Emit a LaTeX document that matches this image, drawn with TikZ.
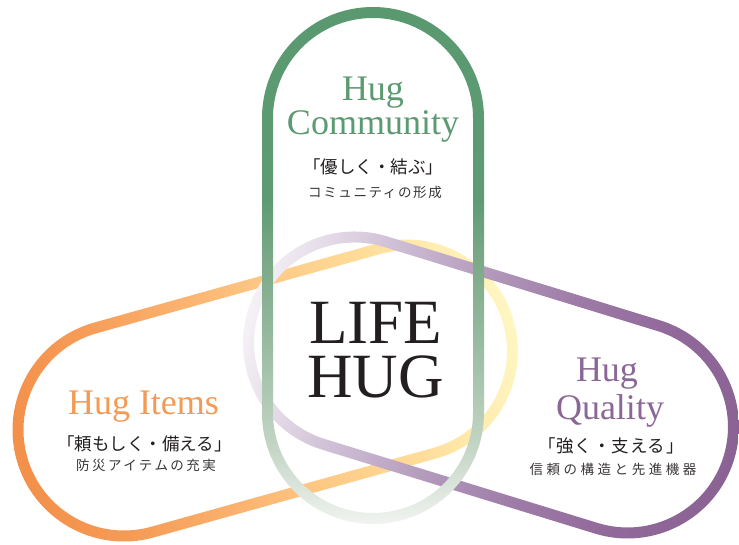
\documentclass[tikz,border=0pt]{standalone}
\usepackage{fontspec}
\newfontfamily\serifen{Liberation Serif}
\newfontfamily\jp{Noto Sans CJK JP}
% orange stops
\definecolor{oA}{HTML}{F3904A}
\definecolor{oB}{HTML}{F69D58}
\definecolor{oC}{HTML}{FBB470}
\definecolor{oD}{HTML}{FDC884}
\definecolor{oE}{HTML}{FFDC98}
\definecolor{oF}{HTML}{FFECB0}
\definecolor{oG}{HTML}{FFF6C2}
% purple stops
\definecolor{pA}{HTML}{F5F2F6}
\definecolor{pB}{HTML}{E2D8E6}
\definecolor{pC}{HTML}{CDBCD4}
\definecolor{pD}{HTML}{B096B8}
\definecolor{pE}{HTML}{9F7DA8}
\definecolor{pF}{HTML}{91699B}
\definecolor{pG}{HTML}{8A6293}
% green stops
\definecolor{gA}{HTML}{F1F3F0}
\definecolor{gB}{HTML}{C5D6C7}
\definecolor{gC}{HTML}{93B89B}
\definecolor{gD}{HTML}{78A785}
\definecolor{gE}{HTML}{5E9B73}
\definecolor{gF}{HTML}{5A9970}
% text colours
\definecolor{tgreen}{HTML}{5C9A72}
\definecolor{torange}{HTML}{F39A55}
\definecolor{tpurple}{HTML}{8B6796}
\definecolor{tdark}{HTML}{231F20}
\pgfdeclarehorizontalshading{orangesh}{100bp}{color(0bp)=(oA); color(25bp)=(oA); color(35bp)=(oB); color(45bp)=(oC); color(52.5bp)=(oD); color(62.5bp)=(oE); color(69bp)=(oF); color(75bp)=(oG); color(100bp)=(oG)}
\pgfdeclarehorizontalshading{purplesh}{100bp}{color(0bp)=(pA); color(25bp)=(pA); color(31bp)=(pB); color(37.5bp)=(pC); color(47.5bp)=(pD); color(55bp)=(pE); color(65bp)=(pF); color(75bp)=(pG); color(100bp)=(pG)}
\pgfdeclarehorizontalshading{greensh}{100bp}{color(0bp)=(gA); color(25bp)=(gA); color(32.2bp)=(gB); color(43.8bp)=(gC); color(51.5bp)=(gD); color(56.3bp)=(gE); color(75bp)=(gF); color(100bp)=(gF)}
% ring of a capsule: #1 length, #2 radius of centre line, #3 half stroke, #4 shading
\newcommand{\ringshade}[4]{%
  \shade[shading=#4,even odd rule]
    (0,#2+#3) -- (#1,#2+#3) arc[start angle=90,end angle=-90,radius=#2+#3]
    -- (0,-#2-#3) arc[start angle=270,end angle=90,radius=#2+#3] -- cycle
    (0,#2-#3) -- (#1,#2-#3) arc[start angle=90,end angle=-90,radius=#2-#3]
    -- (0,-#2+#3) arc[start angle=270,end angle=90,radius=#2-#3] -- cycle;}
\tikzset{
  hugtxt/.style={font=\serifen\fontsize{36}{36}\selectfont, inner sep=0pt, anchor=base},
  lifetxt/.style={font=\serifen\fontsize{63}{63}\selectfont, inner sep=0pt, anchor=base, text=tdark},
  jpmain/.style={font=\jp\fontsize{17.5}{17.5}\selectfont, inner sep=0pt, text=tdark},
  jpsub/.style={inner sep=0pt, text=tdark!90}
}
\begin{document}
\begin{tikzpicture}[x=1pt,y=1pt]
\useasboundingbox (0,0) rectangle (739,545);
\fill[white] (0,0) rectangle (739,545);
% orange capsule
\begin{scope}[transform canvas={shift={(124,115)},rotate=15.62}]
  \ringshade{293.3}{106}{5.5}{orangesh}
\end{scope}
% purple capsule
\begin{scope}[transform canvas={shift={(354.5,202)},rotate=-17.1}]
  \ringshade{285.6}{106}{5.5}{purplesh}
\end{scope}
% green capsule
\begin{scope}[transform canvas={shift={(373,132)},rotate=90}]
  \ringshade{295}{105.5}{5.5}{greensh}
\end{scope}
% Hug Community
\node[hugtxt, text=tgreen] (hc1) at (373,444) {Hug};
\node[hugtxt, text=tgreen] (hc2) at (373,410) {Community};
\node[jpmain] (hc3) at (373,378.5) {「優しく・結ぶ」};
\node[jpsub, font={\jp\fontsize{13.5}{13.5}\selectfont\addfontfeatures{LetterSpace=12}}] (hc4) at (375,353) {コミュニティの形成};
% LIFE HUG
\node[lifetxt] (life) at (375.5,201) {LIFE};
\node[lifetxt] (hug) at (375.5,147) {HUG};
% Hug Items
\node[hugtxt, text=torange] (hi1) at (143.5,130) {Hug Items};
\node[jpmain] (hi2) at (144.5,101.5) {「頼もしく・備える」};
\node[jpsub, font={\jp\fontsize{13.5}{13.5}\selectfont\addfontfeatures{LetterSpace=18}}] (hi3) at (146,79.5) {防災アイテムの充実};
% Hug Quality
\node[hugtxt, text=tpurple] (hq1) at (607,163) {Hug};
\node[hugtxt, text=tpurple] (hq2) at (610,125) {Quality};
\node[jpmain, font={\jp\fontsize{17.5}{17.5}\selectfont\addfontfeatures{LetterSpace=5}}] (hq3) at (611,99.5) {「強く・支える」};
\node[jpsub, font={\jp\fontsize{13.5}{13.5}\selectfont\addfontfeatures{LetterSpace=26}}] (hq4) at (613,75.5) {信頼の構造と先進機器};
\end{tikzpicture}
\end{document}
